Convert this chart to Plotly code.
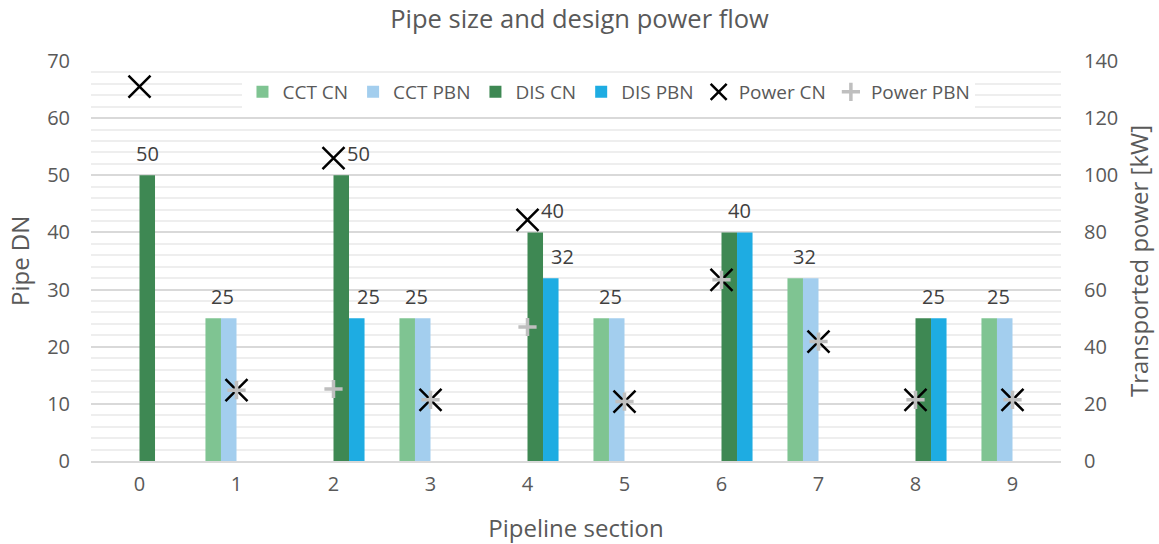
import plotly.graph_objects as go

sections = [0, 1, 2, 3, 4, 5, 6, 7, 8, 9]

# Pipe nominal diameters per section (None = pipe type not used there)
cct_cn = [None, 25, None, 25, None, 25, None, 32, None, 25]
cct_pbn = [None, 25, None, 25, None, 25, None, 32, None, 25]
dis_cn = [50, None, 50, None, 40, None, 40, None, 25, None]
dis_pbn = [None, None, 25, None, 32, None, 40, None, 25, None]

# Design power flow per section [kW]
power_cn = [131, 24.8, 106, 21.4, 84.4, 20.8, 63.4, 41.8, 21.4, 21.4]
power_pbn = [None, 24.8, 25.2, 21.4, 46.9, 20.8, 63.4, 41.8, 21.4, 21.4]

FONT = "Open Sans"
GREY_TXT = "#595959"
BAR_GAP = 0.36
N_SERIES = 4
bar_w = (1 - BAR_GAP) / N_SERIES

fig = go.Figure()

bar_series = [
    ("CCT CN", cct_cn, "#7FC492"),
    ("CCT PBN", cct_pbn, "#A3CEEE"),
    ("DIS CN", dis_cn, "#3E8853"),
    ("DIS PBN", dis_pbn, "#1EACE2"),
]
for name, vals, col in bar_series:
    fig.add_trace(go.Bar(
        x=sections, y=vals, name=name,
        marker=dict(color=col, line=dict(width=0)),
        yaxis="y",
    ))

fig.add_trace(go.Scatter(
    x=sections, y=power_cn, name="Power CN", mode="markers", yaxis="y2",
    marker=dict(symbol="x-thin", size=22, color="black",
                line=dict(width=2.5, color="black")),
))
fig.add_trace(go.Scatter(
    x=sections, y=power_pbn, name="Power PBN", mode="markers", yaxis="y2",
    marker=dict(symbol="cross-thin", size=13, color="#BFBFBF",
                line=dict(width=3.5, color="#BFBFBF")),
))

# Value labels: one label over a pair of equal bars, otherwise one per bar
annotations = []
pairs = [(cct_cn, cct_pbn, -1.0), (dis_cn, dis_pbn, 1.0)]
for a_vals, b_vals, side in pairs:
    for i, x in enumerate(sections):
        a, b = a_vals[i], b_vals[i]
        if a is None and b is None:
            continue
        pair_c = x + side * bar_w
        if a is not None and b is not None and a == b:
            items = [(pair_c, a, 2)]
        elif a is not None and b is not None:
            items = [(pair_c - bar_w / 2, a, 17), (pair_c + bar_w / 2, b, 12)]
        else:
            v = a if a is not None else b
            c = pair_c - bar_w / 2 if a is not None else pair_c + bar_w / 2
            items = [(c, v, 0)]
        for cx, v, dx in items:
            annotations.append(dict(
                x=cx, y=v, xref="x", yref="y", text=str(v), showarrow=False,
                yanchor="bottom", xanchor="center", xshift=dx, yshift=6,
                font=dict(family=FONT, size=20, color="#404040"),
            ))

# Vertical axis titles
axis_title_font = dict(family=FONT, size=24, color=GREY_TXT)
annotations.append(dict(
    text="Pipe DN", xref="paper", yref="paper", x=-0.0742, y=0.5,
    xanchor="center", yanchor="middle", textangle=-90, showarrow=False,
    font=axis_title_font,
))
annotations.append(dict(
    text="Transported power [kW]", xref="paper", yref="paper", x=1.0794, y=0.5,
    xanchor="center", yanchor="middle", textangle=-90, showarrow=False,
    font=axis_title_font,
))

fig.update_layout(
    width=1159, height=544,
    margin=dict(l=91, r=98, t=61, b=83),
    paper_bgcolor="white", plot_bgcolor="white",
    barmode="group", bargap=BAR_GAP, bargroupgap=0,
    font=dict(family=FONT, color=GREY_TXT, size=20),
    title=dict(text="Pipe size and design power flow", x=0.5, xanchor="center",
               y=0.965, yanchor="middle",
               font=dict(family=FONT, size=25.5, color=GREY_TXT)),
    xaxis=dict(
        range=[-0.5, 9.5], tickmode="array", tickvals=sections,
        ticktext=[str(s) for s in sections], automargin=False,
        showgrid=False, zeroline=False, showline=True,
        linecolor="#D9D9D9", linewidth=2, ticks="", ticklabelstandoff=4,
        tickfont=dict(family=FONT, size=20, color=GREY_TXT),
        title=dict(text="Pipeline section", standoff=24,
                   font=axis_title_font),
    ),
    yaxis=dict(
        range=[0, 70], dtick=10, showgrid=True, gridcolor="#D9D9D9",
        gridwidth=1.5, zeroline=False, ticks="", ticklabelstandoff=20,
        automargin=False,
        minor=dict(dtick=2, showgrid=True, gridcolor="#EEEEEE", gridwidth=1.5),
        tickfont=dict(family=FONT, size=20, color=GREY_TXT),
    ),
    yaxis2=dict(
        range=[0, 140], dtick=20, overlaying="y", side="right",
        showgrid=False, zeroline=False, ticks="", ticklabelstandoff=22,
        automargin=False,
        tickfont=dict(family=FONT, size=20, color=GREY_TXT),
    ),
    legend=dict(
        orientation="h", x=0.534, xanchor="center", y=0.97, yanchor="top",
        bgcolor="white", itemwidth=30, traceorder="normal",
        font=dict(family=FONT, size=19, color=GREY_TXT),
    ),
    annotations=annotations,
)

fig.write_html("out.html")
